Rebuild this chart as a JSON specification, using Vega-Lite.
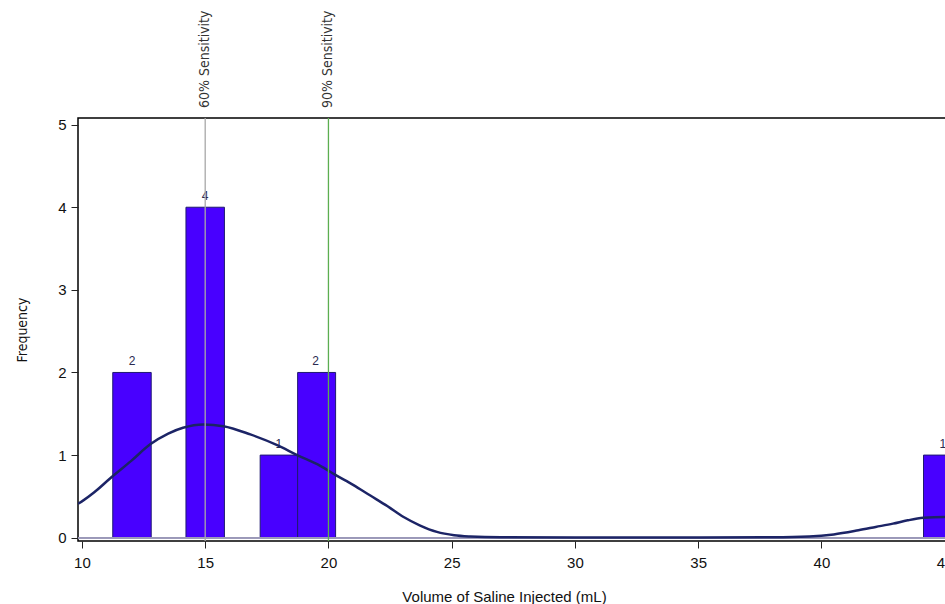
{
  "$schema": "https://vega.github.io/schema/vega-lite/v6.json",
  "autosize": "none",
  "width": 916,
  "height": 423,
  "padding": {"left": 78, "top": 118, "right": 0, "bottom": 63},
  "background": "white",
  "config": {
    "view": {"stroke": "black", "strokeWidth": 1.5},
    "font": "Liberation Sans",
    "axis": {
      "domain": false,
      "grid": false,
      "tickColor": "#222",
      "tickSize": 7,
      "labelFontSize": 15,
      "labelColor": "#111",
      "titleFontWeight": "normal",
      "titleColor": "#111"
    }
  },
  "datasets": {
    "bars": [
      {"start": 11.25, "end": 12.81, "mid": 12.03, "count": 2},
      {"start": 14.22, "end": 15.78, "mid": 15.0, "count": 4},
      {"start": 17.23, "end": 18.75, "mid": 17.99, "count": 1},
      {"start": 18.75, "end": 20.29, "mid": 19.48, "count": 2},
      {"start": 44.14, "end": 45.7, "mid": 44.92, "count": 1}
    ],
    "curve": [
      {"v": 9.84, "d": 0.41}, {"v": 10, "d": 0.44}, {"v": 10.5, "d": 0.55},
      {"v": 11.15, "d": 0.72}, {"v": 12, "d": 0.93}, {"v": 12.77, "d": 1.13},
      {"v": 13.5, "d": 1.26}, {"v": 14.1, "d": 1.33}, {"v": 14.93, "d": 1.37},
      {"v": 15.74, "d": 1.35}, {"v": 16.83, "d": 1.25}, {"v": 17.92, "d": 1.12},
      {"v": 18.73, "d": 1.0}, {"v": 19.67, "d": 0.87}, {"v": 20.28, "d": 0.76},
      {"v": 21, "d": 0.64}, {"v": 21.7, "d": 0.51}, {"v": 22.4, "d": 0.38},
      {"v": 23.05, "d": 0.25}, {"v": 23.7, "d": 0.15}, {"v": 24.4, "d": 0.07},
      {"v": 25.1, "d": 0.03}, {"v": 25.75, "d": 0.015}, {"v": 27, "d": 0.005},
      {"v": 30, "d": 0.003}, {"v": 35, "d": 0.003}, {"v": 38, "d": 0.006},
      {"v": 39.5, "d": 0.015}, {"v": 40.5, "d": 0.04}, {"v": 41.5, "d": 0.09},
      {"v": 42.2, "d": 0.13}, {"v": 42.9, "d": 0.17}, {"v": 43.5, "d": 0.21},
      {"v": 44.14, "d": 0.24}, {"v": 45, "d": 0.25}, {"v": 46, "d": 0.23},
      {"v": 47, "d": 0.19}
    ],
    "refs": [
      {"x": 15, "label": "60% Sensitivity"},
      {"x": 20, "label": "90% Sensitivity"}
    ]
  },
  "layer": [
    {
      "data": {"name": "bars"},
      "mark": {"type": "rect", "fill": "#4800ff", "stroke": "#1f1a70", "strokeWidth": 1},
      "encoding": {
        "x": {
          "field": "start", "type": "quantitative",
          "scale": {"domain": [9.84, 47], "nice": false, "zero": false},
          "axis": {
            "values": [10, 15, 20, 25, 30, 35, 40, 45],
            "format": "d",
            "title": "Volume of Saline Injected (mL)",
            "titleFontSize": 15,
            "titlePadding": 19,
            "titleX": 426,
            "labelPadding": 7
          }
        },
        "x2": {"field": "end"},
        "y": {
          "field": "count", "type": "quantitative",
          "scale": {"domain": [-0.04, 5.08], "nice": false, "zero": false},
          "axis": {
            "values": [0, 1, 2, 3, 4, 5],
            "format": "d",
            "title": "Frequency",
            "titleFont": "DejaVu Sans Condensed",
            "titleFontSize": 14,
            "titlePadding": 28,
            "labelPadding": 5
          }
        },
        "y2": {"datum": 0}
      }
    },
    {
      "data": {"name": "bars"},
      "mark": {"type": "rule", "stroke": "#9a98b8", "strokeWidth": 1.5},
      "encoding": {"y": {"datum": 0}}
    },
    {
      "data": {"name": "bars"},
      "mark": {"type": "text", "baseline": "bottom", "dy": -4, "fontSize": 12, "fill": "#2a2a50", "font": "Liberation Sans"},
      "encoding": {
        "x": {"field": "mid", "type": "quantitative"},
        "y": {"field": "count", "type": "quantitative"},
        "text": {"field": "count", "type": "quantitative"}
      }
    },
    {
      "data": {"name": "curve"},
      "mark": {"type": "line", "stroke": "#1c2466", "strokeWidth": 2.5, "interpolate": "monotone", "clip": true},
      "encoding": {
        "x": {"field": "v", "type": "quantitative"},
        "y": {"field": "d", "type": "quantitative"}
      }
    },
    {
      "data": {"name": "refs"},
      "mark": {"type": "rule", "strokeWidth": 1.3},
      "encoding": {
        "x": {"field": "x", "type": "quantitative"},
        "color": {
          "field": "label", "type": "nominal",
          "scale": {"domain": ["60% Sensitivity", "90% Sensitivity"], "range": ["#a8a8a8", "#5cae50"]},
          "legend": null
        }
      }
    },
    {
      "data": {"name": "refs"},
      "mark": {"type": "text", "angle": 270, "align": "left", "baseline": "middle", "fontSize": 14, "font": "DejaVu Sans Condensed", "fill": "#333"},
      "encoding": {
        "x": {"field": "x", "type": "quantitative"},
        "y": {"datum": 5.2},
        "text": {"field": "label", "type": "nominal"}
      }
    }
  ]
}
